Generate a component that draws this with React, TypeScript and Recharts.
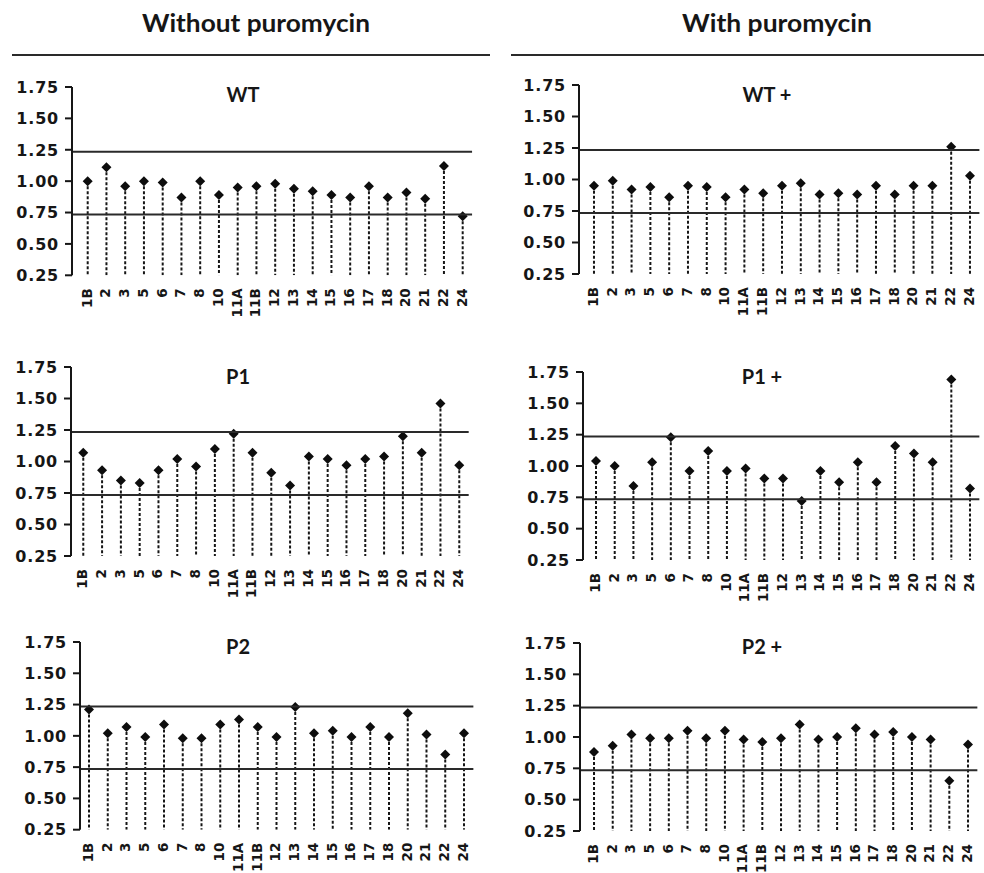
import React from 'react';
import { BarChart, Bar, XAxis, YAxis, ReferenceLine } from 'recharts';

// ---------- data ----------
const categories = ['1B', '2', '3', '5', '6', '7', '8', '10', '11A', '11B', '12', '13', '14', '15', '16', '17', '18', '20', '21', '22', '24'];
const yTicks = [0.25, 0.5, 0.75, 1.0, 1.25, 1.5, 1.75];
const upperLimit = 1.235;
const lowerLimit = 0.735;

const wt = [1.00, 1.11, 0.96, 1.00, 0.99, 0.87, 1.00, 0.89, 0.95, 0.96, 0.98, 0.94, 0.92, 0.89, 0.87, 0.96, 0.87, 0.91, 0.86, 1.12, 0.72];
const wtPlus = [0.95, 0.99, 0.92, 0.94, 0.86, 0.95, 0.94, 0.86, 0.92, 0.89, 0.95, 0.97, 0.88, 0.89, 0.88, 0.95, 0.88, 0.95, 0.95, 1.26, 1.03];
const p1 = [1.07, 0.93, 0.85, 0.83, 0.93, 1.02, 0.96, 1.10, 1.22, 1.07, 0.91, 0.81, 1.04, 1.02, 0.97, 1.02, 1.04, 1.20, 1.07, 1.46, 0.97];
const p1Plus = [1.04, 1.00, 0.84, 1.03, 1.23, 0.96, 1.12, 0.96, 0.98, 0.90, 0.90, 0.72, 0.96, 0.87, 1.03, 0.87, 1.16, 1.10, 1.03, 1.69, 0.82];
const p2 = [1.21, 1.02, 1.07, 0.99, 1.09, 0.98, 0.98, 1.09, 1.13, 1.07, 0.99, 1.23, 1.02, 1.04, 0.99, 1.07, 0.99, 1.18, 1.01, 0.85, 1.02];
const p2Plus = [0.88, 0.93, 1.02, 0.99, 0.99, 1.05, 0.99, 1.05, 0.98, 0.96, 0.99, 1.10, 0.98, 1.00, 1.07, 1.02, 1.04, 1.00, 0.98, 0.65, 0.94];

const headerLeft = 'Without puromycin';
const headerRight = 'With puromycin';

// ---------- layout ----------
const panels = [
  { title: 'WT', values: wt, axisX: 72, top: 86.7, bottom: 275, right: 470, firstX: 87.7, lastX: 462.7, titleX: 243, titleY: 102 },
  { title: 'WT +', values: wtPlus, axisX: 579, top: 85, bottom: 274, right: 977, firstX: 594, lastX: 970, titleX: 767, titleY: 102 },
  { title: 'P1', values: p1, axisX: 71, top: 366.7, bottom: 555.7, right: 466, firstX: 83.3, lastX: 459.3, titleX: 238, titleY: 384 },
  { title: 'P1 +', values: p1Plus, axisX: 583, top: 372, bottom: 560, right: 977, firstX: 596, lastX: 970, titleX: 762, titleY: 384 },
  { title: 'P2', values: p2, axisX: 80, top: 642, bottom: 829.7, right: 472, firstX: 89, lastX: 464, titleX: 238, titleY: 654 },
  { title: 'P2 +', values: p2Plus, axisX: 580, top: 643, bottom: 831, right: 975, firstX: 594, lastX: 968, titleX: 762, titleY: 654 },
];

const INK = '#161616';

function Stem(props: any) {
  const { x, y, width, height } = props;
  if (x == null || y == null) return null;
  const cx = x + width / 2;
  const bottom = y + height;
  const r = 5;
  return (
    <g>
      <line x1={cx} x2={cx} y1={y} y2={bottom} stroke={INK} strokeWidth={2} strokeDasharray="3 2" />
      <polygon points={`${cx},${y - r} ${cx + r},${y} ${cx},${y + r} ${cx - r},${y}`} fill="#0d0d0d" />
    </g>
  );
}

function YTick(props: any) {
  const { x, y, payload } = props;
  return (
    <text x={x - 4} y={y} dy="0.36em" textAnchor="end" fill={INK}
      style={{ fontFamily: 'DejaVu Sans', fontWeight: 700, fontSize: 16, letterSpacing: 0.8 }}>
      {Number(payload.value).toFixed(2)}
    </text>
  );
}

function Panel({ cfg }: { cfg: any }) {
  const n = categories.length;
  const band = (cfg.lastX - cfg.firstX) / (n - 1);
  const padL = cfg.firstX - cfg.axisX - band / 2;
  const plotW = Math.max(cfg.right - cfg.axisX, padL + band * n);
  const padR = plotW - padL - band * n;
  const plotH = cfg.bottom - cfg.top;
  const ML = 80, MT = 10, MR = 10, XH = 60;
  const data = categories.map((c, i) => ({ cat: c, v: cfg.values[i] }));
  const labelY = MT + plotH + 13;
  const xTick = (p: any) => (
    <text x={p.x - 1} y={labelY} dy="0.36em" textAnchor="end" fill={INK}
      transform={`rotate(-90 ${p.x - 1} ${labelY})`}
      style={{ fontFamily: 'DejaVu Sans', fontWeight: 700, fontSize: 13.5 }}>
      {p.payload.value}
    </text>
  );
  return (
    <div style={{ position: 'absolute', left: cfg.axisX - ML, top: cfg.top - MT }}>
      <BarChart width={ML + plotW + MR} height={MT + plotH + XH} data={data}
        margin={{ top: MT, right: MR, bottom: 0, left: 0 }}>
        <XAxis dataKey="cat" interval={0} axisLine={false} tickLine={false} height={XH}
          padding={{ left: padL, right: padR }} tick={xTick} />
        <YAxis width={ML} type="number" domain={[0.25, 1.75]} ticks={yTicks} interval={0} allowDataOverflow
          axisLine={{ stroke: INK, strokeWidth: 2 }} tickLine={{ stroke: INK, strokeWidth: 2 }} tickSize={7}
          tick={<YTick />} />
        <Bar dataKey="v" isAnimationActive={false} shape={<Stem />} />
        <ReferenceLine y={upperLimit} stroke="#2a2a2a" strokeWidth={2} />
        <ReferenceLine y={lowerLimit} stroke="#2a2a2a" strokeWidth={2} />
      </BarChart>
    </div>
  );
}

export default function App() {
  return (
    <div style={{ position: 'absolute', left: 0, top: 0, width: 984, height: 873, background: '#fff', overflow: 'hidden' }}>
      {panels.map((cfg) => <Panel key={cfg.title} cfg={cfg} />)}
      <svg width={984} height={873} style={{ position: 'absolute', left: 0, top: 0, pointerEvents: 'none' }}>
        <text x={256} y={32} textAnchor="middle" fill={INK} textLength={228} lengthAdjust="spacingAndGlyphs"
          style={{ fontFamily: 'Lato', fontWeight: 700, fontSize: 24 }}>{headerLeft}</text>
        <text x={777} y={32} textAnchor="middle" fill={INK} textLength={190} lengthAdjust="spacingAndGlyphs"
          style={{ fontFamily: 'Lato', fontWeight: 700, fontSize: 24 }}>{headerRight}</text>
        <line x1={12} x2={490} y1={55} y2={55} stroke="#2a2a2a" strokeWidth={2} />
        <line x1={511} x2={984} y1={55} y2={55} stroke="#2a2a2a" strokeWidth={2} />
        {panels.map((cfg) => (
          <text key={cfg.title} x={cfg.titleX} y={cfg.titleY} textAnchor="middle" fill={INK}
            style={{ fontFamily: 'Lato', fontWeight: 700, fontSize: 20 }}>{cfg.title}</text>
        ))}
      </svg>
    </div>
  );
}
